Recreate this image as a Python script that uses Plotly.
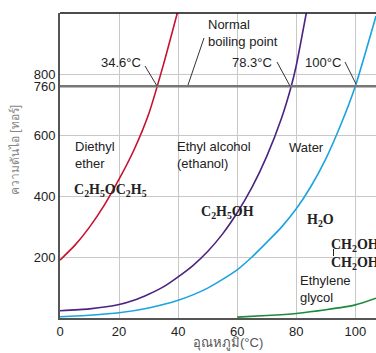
import plotly.graph_objects as go

# ---- data ----
ether_T = [0, 5, 10, 15, 20, 25, 30, 35, 40]
ether_P = [190, 238, 298, 370, 455, 550, 668, 830, 1010]

ethanol_T = [0, 10, 20, 25, 30, 35, 40, 45, 50, 55, 60, 65, 70, 75, 78.3, 80, 83.4]
ethanol_P = [24, 30, 44, 58, 78, 102, 135, 172, 218, 275, 345, 428, 530, 655, 760, 828, 1000]

water_T = [0, 10, 20, 30, 40, 50, 60, 65, 70, 75, 80, 85, 90, 95, 100, 107]
water_P = [4, 9, 17, 33, 58, 98, 158, 200, 248, 298, 358, 432, 522, 632, 760, 990]

glycol_T = [60, 70, 80, 90, 100, 107]
glycol_P = [3, 8, 15, 27, 43, 65]

x_ticks = [0, 20, 40, 60, 80, 100]
y_ticks = [200, 400, 600, 760, 800]
boiling_P = 760

series = [
    (ether_T, ether_P, "#c8102e"),
    (ethanol_T, ethanol_P, "#4a2480"),
    (water_T, water_P, "#1aa3e0"),
    (glycol_T, glycol_P, "#1c8a3c"),
]

fig = go.Figure()
for T, P, c in series:
    fig.add_trace(go.Scatter(x=T, y=P, mode="lines",
                             line=dict(color=c, width=1.6, shape="spline", smoothing=0.6),
                             hoverinfo="skip", showlegend=False))

XR = [0, 107]
YR = [0, 1000]

fig.update_layout(
    width=376, height=353,
    margin=dict(l=60, r=0, t=13, b=35),
    plot_bgcolor="white", paper_bgcolor="white",
    font=dict(family="Liberation Sans, Arial, sans-serif", size=13, color="#222"),
    showlegend=False,
)
fig.update_xaxes(range=XR, tickvals=x_ticks, showgrid=True, gridcolor="#c8c8c8", gridwidth=1,
                 showline=True, linecolor="#555", linewidth=2, ticks="", zeroline=False,
                 tickfont=dict(size=13, color="#222"))
fig.update_yaxes(range=YR, tickvals=y_ticks, showgrid=True, gridcolor="#c8c8c8", gridwidth=1,
                 showline=True, linecolor="#555", linewidth=2, ticks="", zeroline=False,
                 tickfont=dict(size=13, color="#222"))

# boiling-point line and top border
fig.add_shape(type="line", xref="x", yref="y", x0=XR[0], x1=XR[1], y0=boiling_P, y1=boiling_P,
              line=dict(color="#777", width=2.5))
fig.add_shape(type="line", xref="paper", yref="paper", x0=0, x1=1, y0=1, y1=1,
              line=dict(color="#111", width=1.5))

def px2x(px):
    return (px - 60) / 316 * (XR[1] - XR[0])

def py2y(py):
    return (318 - py) / 305 * (YR[1] - YR[0])

def px2p(px):
    return (px - 60) / 316

def py2p(py):
    return (318 - py) / 305

# leader lines
leaders = [((204, 38), (188, 85)), ((145, 66), (157, 86)), ((277, 62), (290, 86)), ((345, 62), (356, 84))]
for (a, b) in leaders:
    fig.add_shape(type="line", xref="x", yref="y", x0=px2x(a[0]), y0=py2y(a[1]), x1=px2x(b[0]), y1=py2y(b[1]),
                  line=dict(color="#333", width=1))

def ann(px, py, text, xanchor="left", yanchor="middle", size=13, family=None, color="#222", align="left"):
    f = dict(size=size, color=color)
    if family:
        f["family"] = family
    fig.add_annotation(x=px2p(px), y=py2p(py), xref="paper", yref="paper", text=text, showarrow=False,
                       xanchor=xanchor, yanchor=yanchor, font=f, align=align)

ann(206, 33, "Normal<br>boiling point")
ann(143, 63, "34.6°C", xanchor="right")
ann(274, 63, "78.3°C", xanchor="right")
ann(343, 63, "100°C", xanchor="right")
ann(73, 155, "Diethyl<br>ether")
ann(175, 155, "Ethyl alcohol<br>(ethanol)")
ann(287, 147, "Water")
ann(298, 289, "Ethylene<br>glycol")

serif = "Liberation Serif, Times New Roman, serif"
ann(72, 190, "<b>C<sub>2</sub>H<sub>5</sub>OC<sub>2</sub>H<sub>5</sub></b>", size=14, family=serif)
ann(199, 212, "<b>C<sub>2</sub>H<sub>5</sub>OH</b>", size=14, family=serif)
ann(305, 220, "<b>H<sub>2</sub>O</b>", size=14, family=serif)
ann(329, 245, "<b>CH<sub>2</sub>OH</b>", size=14, family=serif)
ann(329, 263, "<b>CH<sub>2</sub>OH</b>", size=14, family=serif)
fig.add_shape(type="line", xref="x", yref="y", x0=px2x(333.5), x1=px2x(333.5), y0=py2y(249), y1=py2y(256),
              line=dict(color="#222", width=1))

# axis titles (Thai)
ann(15, 150, "ความดันไอ [ทอร์]", xanchor="center", size=12, color="#888")
fig.layout.annotations[-1].update(textangle=-90)
ann(228, 353, "อุณหภูมิ(°C)", xanchor="center", yanchor="bottom", size=13, color="#555")

fig.write_html("out.html")
